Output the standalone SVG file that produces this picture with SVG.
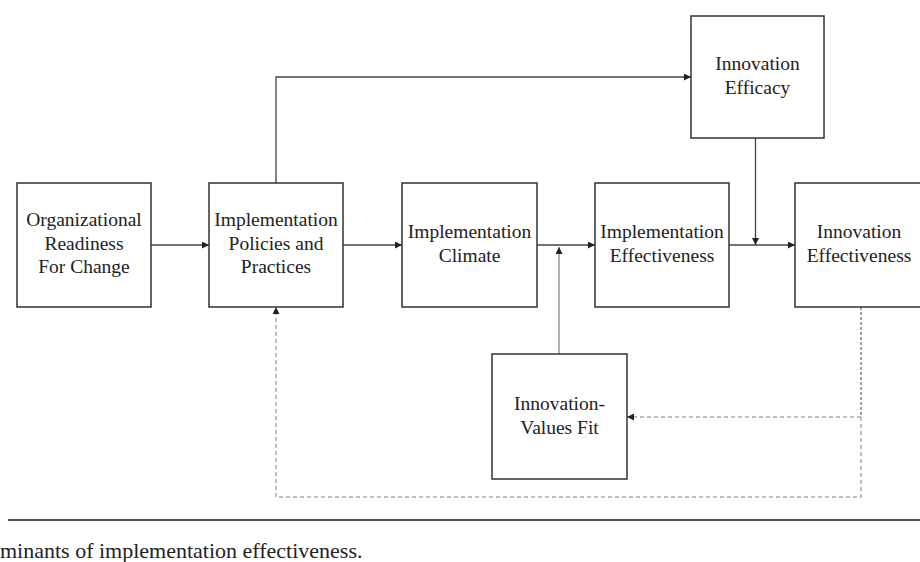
<svg xmlns="http://www.w3.org/2000/svg" width="920" height="562" viewBox="0 0 920 562">
<style>
.box{fill:#fff;stroke:#333;stroke-width:1.5}
.t{font-family:"Liberation Serif",serif;font-size:19.5px;fill:#222;text-anchor:middle}
.ln{fill:none;stroke:#444;stroke-width:1.3}
.lg{fill:none;stroke:#888;stroke-width:1.3}
.dd{fill:none;stroke:#888;stroke-width:1.6;stroke-dasharray:3 2}
.dl{fill:none;stroke:#aaa;stroke-width:1.5;stroke-dasharray:4 3}
</style>
<defs>
<marker id="ah" viewBox="0 0 10 10" refX="10" refY="5" markerWidth="9" markerHeight="7" markerUnits="userSpaceOnUse" orient="auto">
<path d="M0,0 L10,5 L0,10 z" fill="#222"/>
</marker>
</defs>
<rect width="920" height="562" fill="#fff"/>
<g id="connectors">
<line class="ln" x1="151" y1="245" x2="209" y2="245" marker-end="url(#ah)"/>
<line class="ln" x1="343" y1="245" x2="402" y2="245" marker-end="url(#ah)"/>
<line class="ln" x1="537" y1="245" x2="595" y2="245" marker-end="url(#ah)"/>
<line class="ln" x1="729" y1="245" x2="795" y2="245" marker-end="url(#ah)"/>
<polyline class="ln" points="276,183 276,77 691,77" marker-end="url(#ah)"/>
<line class="ln" x1="755.5" y1="138" x2="755.5" y2="245" marker-end="url(#ah)"/>
<line class="lg" x1="559" y1="354" x2="559" y2="247" marker-end="url(#ah)"/>
<line class="dd" x1="861" y1="307" x2="861" y2="417"/>
<polyline class="dl" points="861,417 861,497 276,497 276,307" marker-end="url(#ah)"/>
<line class="dl" x1="861" y1="417" x2="627" y2="417" marker-end="url(#ah)"/>
</g>
<g id="n-readiness">
<rect class="box" x="17" y="183" width="134" height="124"/>
<text class="t" x="84" y="226">Organizational</text>
<text class="t" x="84" y="250">Readiness</text>
<text class="t" x="84" y="273">For Change</text>
</g>
<g id="n-policies">
<rect class="box" x="209" y="183" width="134" height="124"/>
<text class="t" x="276" y="226">Implementation</text>
<text class="t" x="276" y="250">Policies and</text>
<text class="t" x="276" y="273">Practices</text>
</g>
<g id="n-climate">
<rect class="box" x="402" y="183" width="135" height="124"/>
<text class="t" x="469.5" y="238">Implementation</text>
<text class="t" x="469.5" y="262">Climate</text>
</g>
<g id="n-impl-eff">
<rect class="box" x="595" y="183" width="134" height="124"/>
<text class="t" x="662" y="238">Implementation</text>
<text class="t" x="662" y="262">Effectiveness</text>
</g>
<g id="n-innov-eff">
<rect class="box" x="795" y="183" width="134" height="124"/>
<text class="t" x="859" y="238">Innovation</text>
<text class="t" x="859" y="262">Effectiveness</text>
</g>
<g id="n-efficacy">
<rect class="box" x="691" y="16" width="133" height="122"/>
<text class="t" x="757.5" y="70">Innovation</text>
<text class="t" x="757.5" y="94">Efficacy</text>
</g>
<g id="n-values-fit">
<rect class="box" x="492" y="354" width="135" height="125"/>
<text class="t" x="559.5" y="410">Innovation-</text>
<text class="t" x="559.5" y="434">Values Fit</text>
</g>
<line x1="8" y1="520" x2="920" y2="520" stroke="#555" stroke-width="2"/>
<text x="0" y="558" font-family="Liberation Serif, serif" font-size="22" fill="#222">minants of implementation effectiveness.</text>
</svg>
